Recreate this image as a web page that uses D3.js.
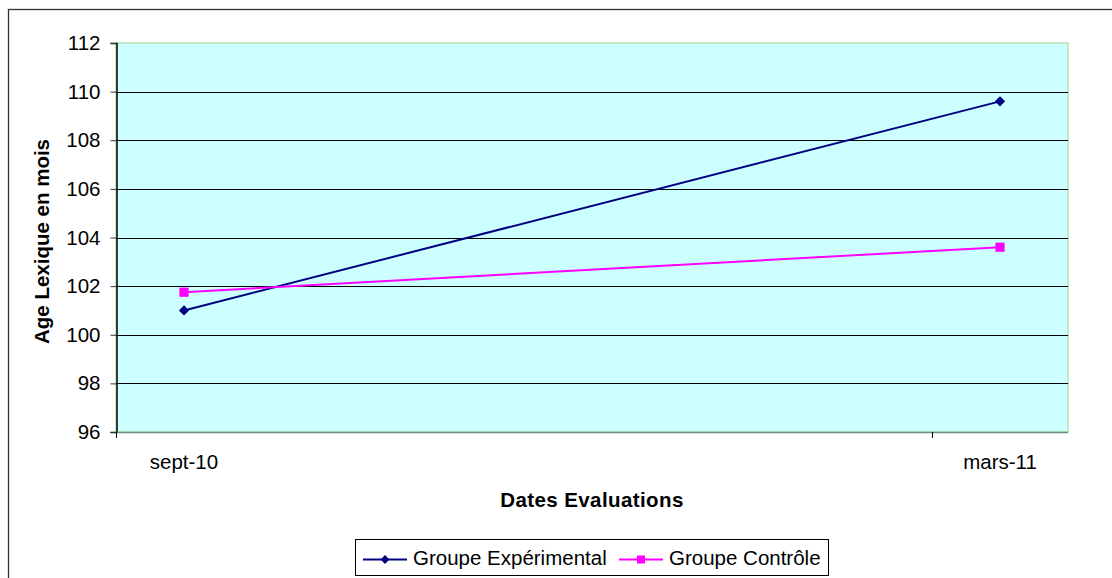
<!DOCTYPE html>
<html>
<head>
<meta charset="utf-8">
<script src="https://cdn.jsdelivr.net/npm/d3@7/dist/d3.min.js"></script>
<style>
  html, body { margin: 0; padding: 0; background: #ffffff; }
  svg { display: block; font-family: "Liberation Sans", Arial, sans-serif; }
</style>
</head>
<body>
<svg id="chart" width="1112" height="578"></svg>
<script>
// Evaluation dates (year-month) and their axis labels
const dates = ["2010-09", "2011-03"];
const dateLabels = ["sept-10", "mars-11"];
// Lexical age in months for each group
const experimental = [101.0, 109.6];
const control = [101.75, 103.6];
const seriesNames = ["Groupe Expérimental", "Groupe Contrôle"];
const yTicks = [96, 98, 100, 102, 104, 106, 108, 110, 112];

const svg = d3.select("#chart");
const plot = { left: 116, top: 43, right: 1068, bottom: 432 };

const parseMonth = d3.timeParse("%Y-%m");
const first = parseMonth(dates[0]);
const last = parseMonth(dates[dates.length - 1]);
// Date axis with monthly base unit: one band per month
const months = d3.timeMonth.range(first, d3.timeMonth.offset(last, 1));
const monthKey = d3.timeFormat("%Y-%m");
const x = d3.scaleBand()
  .domain(months.map(monthKey))
  .range([plot.left, plot.right])
  .padding(0);
const xPos = d => x(d) + x.bandwidth() / 2;

const y = d3.scaleLinear()
  .domain([d3.min(yTicks), d3.max(yTicks)])
  .range([plot.bottom, plot.top]);

// Outer chart frame
svg.append("rect")
  .attr("x", 8.5).attr("y", 9.5)
  .attr("width", 1112).attr("height", 578)
  .attr("fill", "#ffffff")
  .attr("stroke", "#333333").attr("stroke-width", 1.3);

// Plot area
svg.append("rect")
  .attr("x", plot.left).attr("y", plot.top)
  .attr("width", plot.right - plot.left).attr("height", plot.bottom - plot.top)
  .attr("fill", "#ccffff")
  .attr("stroke", "#b4e4b4").attr("stroke-width", 1.5);

// Horizontal gridlines
svg.append("g")
  .selectAll("line")
  .data(yTicks.slice(1, -1))
  .join("line")
  .attr("x1", plot.left).attr("x2", plot.right)
  .attr("y1", d => Math.round(y(d)) + 0.5).attr("y2", d => Math.round(y(d)) + 0.5)
  .attr("stroke", "#000000").attr("stroke-width", 1);

// Y axis
const yAxis = svg.append("g")
  .attr("transform", `translate(${plot.left + 0.5},0)`)
  .call(d3.axisLeft(y).tickValues(yTicks).tickSize(6).tickPadding(10).tickFormat(d3.format("d")));
yAxis.select(".domain").attr("stroke", "#000000").attr("stroke-width", 1.5);
yAxis.selectAll(".tick line").attr("stroke", "#333333");
yAxis.selectAll(".tick text")
  .attr("font-size", 20.5)
  .attr("fill", "#000000")
  .attr("font-family", "Liberation Sans, Arial, sans-serif");

// X axis line
svg.append("line")
  .attr("x1", plot.left).attr("x2", plot.right)
  .attr("y1", plot.bottom + 0.5).attr("y2", plot.bottom + 0.5)
  .attr("stroke", "#6e8e78").attr("stroke-width", 1.5);

// X ticks every six months, at band boundaries
const tickMonths = months.filter((m, i) => i % 6 === 0).map(monthKey);
svg.append("g")
  .selectAll("line")
  .data(tickMonths)
  .join("line")
  .attr("x1", d => Math.round(x(d)) + 0.5).attr("x2", d => Math.round(x(d)) + 0.5)
  .attr("y1", plot.bottom).attr("y2", plot.bottom + 6)
  .attr("stroke", "#000000").attr("stroke-width", 1);

// X labels centred on the evaluation months
svg.append("g")
  .selectAll("text")
  .data(dates)
  .join("text")
  .attr("x", d => xPos(d))
  .attr("y", 469)
  .attr("text-anchor", "middle")
  .attr("font-size", 20.5)
  .attr("fill", "#000000")
  .text((d, i) => dateLabels[i]);

// Axis titles
svg.append("text")
  .attr("x", (plot.left + plot.right) / 2)
  .attr("y", 507)
  .attr("text-anchor", "middle")
  .attr("font-size", 20.5)
  .attr("letter-spacing", 0.4)
  .attr("font-weight", "bold")
  .text("Dates Evaluations");

svg.append("text")
  .attr("transform", `translate(49,${(plot.top + plot.bottom) / 2 + 4}) rotate(-90)`)
  .attr("text-anchor", "middle")
  .attr("font-size", 20.5)
  .attr("font-weight", "bold")
  .text("Age Lexique en mois");

// Series: diamond is a square turned 45 degrees
const series = [
  { name: seriesNames[0], values: experimental, color: "#000080", marker: d3.symbolSquare, rot: 45, size: 52 },
  { name: seriesNames[1], values: control, color: "#ff00ff", marker: d3.symbolSquare, rot: 0, size: 85 }
];

const line = d3.line()
  .x(d => xPos(d.date))
  .y(d => y(d.value));

series.forEach(s => {
  const pts = dates.map((d, i) => ({ date: d, value: s.values[i] }));
  svg.append("path")
    .datum(pts)
    .attr("d", line)
    .attr("fill", "none")
    .attr("stroke", s.color)
    .attr("stroke-width", 2);
  svg.append("g")
    .selectAll("path")
    .data(pts)
    .join("path")
    .attr("transform", d => `translate(${xPos(d.date)},${y(d.value)}) rotate(${s.rot})`)
    .attr("d", d3.symbol().type(s.marker).size(s.size))
    .attr("fill", s.color);
});

// Legend
const legend = svg.append("g");
legend.append("rect")
  .attr("x", 355.5).attr("y", 539.5)
  .attr("width", 473).attr("height", 36)
  .attr("fill", "#ffffff")
  .attr("stroke", "#000000").attr("stroke-width", 1);

const legendItems = [
  { s: series[0], x0: 363, textX: 413 },
  { s: series[1], x0: 619, textX: 669 }
];
legendItems.forEach(item => {
  const cy = 559.5;
  legend.append("line")
    .attr("x1", item.x0).attr("x2", item.x0 + 44)
    .attr("y1", cy).attr("y2", cy)
    .attr("stroke", item.s.color).attr("stroke-width", 2);
  legend.append("path")
    .attr("transform", `translate(${item.x0 + 22},${cy}) rotate(${item.s.rot})`)
    .attr("d", d3.symbol().type(item.s.marker).size(item.s.size * 0.75))
    .attr("fill", item.s.color);
  legend.append("text")
    .attr("x", item.textX).attr("y", 565)
    .attr("font-size", 20.5)
    .attr("fill", "#000000")
    .text(item.s.name);
});
</script>
</body>
</html>
